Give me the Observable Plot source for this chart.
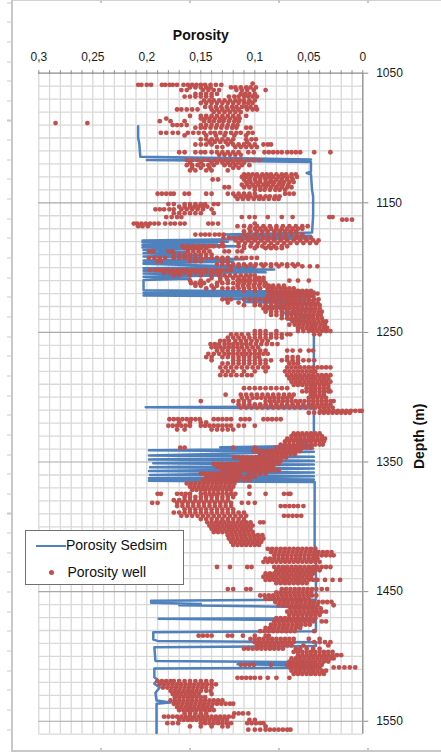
<!DOCTYPE html>
<html>
<head>
<meta charset="utf-8">
<script src="https://cdn.jsdelivr.net/npm/d3@7"></script>
<script src="https://cdn.jsdelivr.net/npm/@observablehq/plot@0.6"></script>
<style>
  html, body { margin: 0; padding: 0; background: #fff; }
  #wrap { position: relative; width: 441px; height: 752px; overflow: hidden; font-family: "Liberation Sans", Arial, sans-serif; }
  #wrap svg { display: block; position: absolute; left: 0; top: 0; }
  .frame { position: absolute; left: 11px; top: 0; width: 430px; height: 752px; box-sizing: border-box;
           border-left: 2px solid #c8c8c8; border-bottom: 2px solid #c8c8c8; border-top: 1px solid #d2d2d2; }
  .lticks { position: absolute; left: 7px; top: 0; width: 4px; height: 750px;
            background: repeating-linear-gradient(to bottom, transparent 0, transparent 18.6px, #c8c8c8 18.6px, #c8c8c8 19.65px);
            background-position: 0 -16.5px; }
  .tick { position: absolute; width: 1.5px; background: #c8c8c8; }
  #legend { position: absolute; left: 25px; top: 530px; width: 157px; height: 53px; background: #fff;
            border: 1px solid #707070; }
  #legend .txt { position: absolute; font-size: 14px; line-height: 14px; color: #111; white-space: nowrap; }
  #legend .ln { position: absolute; left: 10px; top: 13.5px; width: 30px; height: 2.6px; background: #4f81bd; }
  #legend .dt { position: absolute; left: 22.5px; top: 38.5px; width: 5px; height: 5px; border-radius: 50%; background: #c0504d; }
</style>
</head>
<body>
<div id="wrap">
  <div class="frame"></div>
  <div class="lticks"></div>
</div>
<script>
// ---------------- data ----------------
const porosityTicks = [0.3, 0.25, 0.2, 0.15, 0.1, 0.05, 0];
const depthTicks = [1050, 1150, 1250, 1350, 1450, 1550];
const seriesNames = ["Porosity Sedsim", "Porosity well"];

// Porosity Sedsim: [depth (m), porosity], in drawing order
const sedsimLog = [
  [1091,0.208],[1100,0.208],[1104,0.207],[1114.5,0.206],[1116.5,0.048],[1117,0.200],[1118.5,0.048],
  [1126,0.048],[1127,0.052],[1128,0.048],[1140,0.047],[1145,0.046],[1160,0.046],[1173,0.047],
  [1174.5,0.129],[1175.5,0.048],[1176.5,0.125],[1177.5,0.047],
  [1179,0.204],[1180,0.125],[1180.5,0.204],[1181.5,0.135],[1182.5,0.204],[1183.5,0.115],[1184.5,0.204],
  [1185.5,0.150],[1186.5,0.203],[1188,0.162],[1189,0.203],[1190.5,0.150],[1191.5,0.203],[1193.5,0.110],
  [1194.5,0.203],[1195.5,0.120],[1196.5,0.203],[1197,0.203],[1199.5,0.100],[1200.5,0.203],[1201.5,0.082],
  [1202.5,0.203],[1203.5,0.090],[1204.5,0.203],[1206,0.130],[1207,0.203],[1208.5,0.160],[1209.5,0.203],
  [1217.5,0.203],[1218.5,0.045],[1219.5,0.203],[1220.5,0.045],[1221.5,0.203],[1222.5,0.045],
  [1224,0.130],[1225,0.046],[1226.5,0.110],[1227.5,0.050],[1230,0.090],[1232,0.046],[1235,0.075],
  [1237,0.045],[1240,0.070],[1242,0.045],[1250,0.0453],[1300,0.0453],[1307,0.0453],[1307.8,0.201],
  [1308.6,0.0453],[1330,0.0453],[1334,0.050],[1336,0.060],[1337.5,0.046],[1338.6,0.132],[1339.6,0.046],
  [1341,0.198],[1342,0.0453],[1345,0.198],[1346,0.0453],[1348,0.198],[1349,0.0453],[1351,0.194],
  [1352,0.0453],[1354,0.197],[1355,0.0453],[1357,0.198],[1358,0.0453],[1360,0.197],[1361,0.0453],
  [1362.5,0.198],[1363.5,0.0453],[1364.5,0.198],[1365.5,0.0446],[1415,0.0446],[1416,0.0434],
  [1456,0.0434],[1457,0.196],[1458.5,0.196],[1459.5,0.150],[1460.5,0.170],[1462,0.0434],
  [1470.5,0.0434],[1471,0.189],[1472,0.0434],[1480.5,0.0434],[1481.3,0.194],[1487,0.194],[1488,0.190],
  [1489,0.0434],[1492,0.0434],[1493,0.193],[1503.5,0.192],[1504.5,0.0434],[1506,0.116],[1507,0.0434],
  [1508.5,0.0434],[1509.4,0.193],[1516,0.193],[1518,0.190],[1521,0.193],[1524,0.188],[1528,0.192],
  [1534,0.191],[1535.5,0.178],[1536.5,0.191],[1559,0.191]
];

// Porosity well: [depth (m), [porosity values read along that depth]]
const wellRows = [
  [1058,[0.102]],
  [1059,[0.208,0.205,0.200,0.196,0.186,0.183,0.179,0.176,0.172,0.166,0.162,0.158,0.154,0.150,0.146,0.141,0.136,0.131]],
  [1061,[0.160,0.155,0.150,0.145,0.141,0.122,0.118,0.113,0.108,0.104,0.099]],
  [1063,[0.090,0.168,0.163,0.148,0.143,0.138,0.133,0.117,0.112,0.107,0.101]],
  [1066,[0.155,0.150,0.145,0.140,0.135,0.113,0.109,0.105,0.100]],
  [1068,[0.165,0.160,0.155,0.150,0.145,0.140,0.124,0.119,0.115,0.110,0.106,0.102,0.098]],
  [1071,[0.147,0.142,0.138,0.133,0.128,0.123,0.118,0.114,0.110,0.105,0.100]],
  [1073,[0.150,0.145,0.140,0.135,0.130,0.125,0.120,0.115,0.110,0.106,0.102]],
  [1076,[0.146,0.141,0.136,0.131,0.126,0.121,0.117,0.112,0.108,0.104,0.099]],
  [1078,[0.172,0.168,0.163,0.158,0.153,0.140,0.135,0.130,0.125,0.120,0.115,0.107,0.102,0.098]],
  [1080,[0.138,0.133,0.128,0.123,0.118,0.113]],
  [1083,[0.160,0.150,0.145,0.140,0.135,0.130,0.125,0.120,0.115,0.108]],
  [1085,[0.182,0.150,0.146,0.142,0.137,0.132,0.128,0.123,0.118,0.114]],
  [1087,[0.188,0.178,0.165,0.147,0.142,0.138,0.133,0.129,0.124,0.119,0.115]],
  [1088.5,[0.2845,0.255]],
  [1090,[0.176,0.172,0.168,0.163,0.150,0.145,0.140,0.135,0.130,0.125,0.120,0.116]],
  [1092,[0.155,0.150,0.146,0.141,0.136,0.131,0.126,0.121,0.117,0.108,0.104]],
  [1096,[0.187,0.182,0.176,0.171,0.162,0.157,0.152,0.147,0.141,0.137,0.132,0.127,0.122,0.117,0.113,0.106,0.102]],
  [1098,[0.165,0.145,0.136,0.128,0.119,0.108]],
  [1101,[0.150,0.145,0.140,0.135,0.130,0.125,0.120,0.108,0.103,0.099]],
  [1103,[0.142,0.137,0.132,0.127,0.122,0.107]],
  [1105,[0.155,0.150,0.145,0.140,0.125,0.120,0.115,0.110,0.105,0.100,0.092,0.088,0.085]],
  [1107,[0.135,0.130,0.118,0.113,0.108,0.103,0.098]],
  [1111,[0.170,0.165,0.155,0.150,0.146,0.140,0.135,0.130,0.125,0.120,0.115,0.106,0.101,0.091,0.087,0.083,0.079,0.075,0.070,0.066,0.062,0.058,0.045,0.030]],
  [1113,[0.133,0.128,0.123,0.118,0.113]],
  [1117,[0.163,0.158,0.153,0.148,0.143,0.137,0.132,0.127,0.122,0.117,0.113,0.106,0.101,0.096]],
  [1119,[0.160,0.150,0.140,0.135,0.130,0.125,0.120,0.115,0.110]],
  [1121,[0.163,0.158,0.153,0.148,0.143,0.138,0.128,0.123,0.118,0.112,0.105]],
  [1123,[0.158,0.150,0.142,0.120,0.115]],
  [1125,[0.160,0.155,0.145,0.140,0.125]],
  [1128,[0.110,0.106,0.102,0.098,0.093,0.089,0.085,0.080,0.075,0.071,0.066,0.062]],
  [1130,[0.112,0.108,0.104,0.099,0.095,0.091,0.087,0.083,0.078,0.074,0.070,0.066,0.061]],
  [1132,[0.139,0.134,0.110,0.105,0.100,0.095,0.090,0.085,0.080,0.075,0.070,0.065]],
  [1134,[0.108,0.104,0.099,0.095,0.090,0.086,0.082,0.077,0.073,0.068,0.064]],
  [1136,[0.112,0.107,0.102,0.097,0.092,0.088,0.083,0.078,0.074,0.069]],
  [1138,[0.128,0.124,0.110,0.105,0.100,0.095,0.090,0.085,0.080,0.075,0.070,0.066]],
  [1140,[0.100,0.095,0.091,0.086,0.081,0.077,0.072]],
  [1143,[0.190,0.186,0.182,0.178,0.175,0.165,0.161,0.145,0.140,0.125,0.120,0.115,0.110,0.105,0.100,0.072,0.068,0.064]],
  [1145,[0.118,0.113,0.108,0.104,0.099,0.095,0.090,0.086,0.081,0.077]],
  [1147,[0.116,0.111,0.106,0.101,0.096,0.092,0.087,0.082,0.078]],
  [1151,[0.180,0.175,0.165,0.160,0.155,0.150,0.146,0.138,0.134]],
  [1153,[0.170,0.165,0.160,0.156,0.152,0.148,0.144]],
  [1155,[0.192,0.188,0.184,0.179,0.175,0.168,0.163,0.158,0.153,0.148,0.140]],
  [1158,[0.175,0.170,0.165,0.160,0.155,0.150,0.138]],
  [1161,[0.182,0.177,0.172,0.168,0.112,0.105,0.100,0.088,0.075,0.065,0.031,0.028]],
  [1163,[0.019,0.015,0.010]],
  [1166,[0.212,0.209,0.205,0.201,0.197,0.193,0.189,0.183,0.178,0.174,0.169,0.165,0.143,0.139,0.134,0.100]],
  [1168,[0.208,0.204,0.199,0.116,0.110,0.104,0.098,0.092,0.086,0.080,0.074,0.068,0.062,0.056,0.051]],
  [1170,[0.105,0.100,0.095,0.090,0.085,0.080,0.075,0.070,0.065,0.060,0.056]],
  [1172,[0.110,0.104,0.098,0.093,0.088,0.082,0.077,0.072,0.067,0.062]],
  [1174.5,[0.155,0.150,0.146,0.142,0.137,0.133,0.129,0.110,0.106,0.100,0.094,0.088,0.082,0.077,0.071,0.066,0.061,0.056]],
  [1177,[0.129,0.124,0.119,0.114,0.108,0.103,0.098,0.092,0.087,0.082,0.076,0.071,0.062,0.058,0.053,0.048]],
  [1179,[0.118,0.112,0.106,0.100,0.094,0.088,0.082,0.076,0.070,0.064,0.058,0.052,0.046,0.041]],
  [1181,[0.130,0.115,0.109,0.103,0.097,0.091,0.085,0.079,0.073,0.067,0.061,0.055,0.049,0.043]],
  [1183.5,[0.167,0.162,0.157,0.152,0.147,0.142,0.138,0.133,0.129,0.115,0.110,0.104,0.098,0.093,0.087,0.082,0.075,0.070]],
  [1185,[0.165,0.160,0.155,0.150,0.145,0.110,0.100,0.090,0.085,0.080,0.075]],
  [1187.5,[0.198,0.194,0.180,0.176,0.162,0.157,0.152,0.147,0.142,0.128,0.124,0.116,0.112]],
  [1190,[0.175,0.170,0.165,0.160,0.155,0.150,0.145,0.140]],
  [1192.5,[0.198,0.193,0.188,0.183,0.175,0.170,0.165,0.160,0.155,0.150,0.145,0.140,0.135,0.130,0.125,0.117,0.112,0.108,0.103,0.098]],
  [1195,[0.190,0.187,0.160,0.155,0.150,0.130,0.125]],
  [1197.5,[0.135,0.130,0.125,0.120,0.115,0.110,0.104,0.099,0.094,0.090,0.085,0.080,0.075,0.070,0.065,0.060]],
  [1199,[0.122,0.115,0.108,0.100,0.092,0.085,0.078,0.070,0.063,0.056,0.049,0.042]],
  [1202,[0.197,0.192,0.188,0.184,0.180,0.176,0.171,0.167,0.163,0.158,0.154,0.150,0.145,0.140,0.135,0.131,0.126,0.122]],
  [1204,[0.184,0.179,0.174,0.170,0.165,0.160,0.155,0.150,0.145,0.140,0.136,0.132]],
  [1206,[0.175,0.170,0.160,0.150,0.140,0.133,0.128,0.123,0.118,0.113,0.108,0.104,0.100]],
  [1208,[0.140,0.132,0.126,0.120,0.115,0.110,0.105,0.100,0.096,0.092]],
  [1210,[0.160,0.150,0.143,0.132,0.125,0.116,0.112,0.108,0.104,0.100,0.096,0.092,0.068,0.060,0.050]],
  [1212,[0.159,0.155,0.151,0.147,0.135,0.130,0.125,0.120,0.115,0.110,0.105,0.100,0.095,0.090]],
  [1214,[0.155,0.150,0.140,0.135,0.116,0.111,0.106,0.101,0.096,0.091,0.087,0.083,0.078,0.073]],
  [1216,[0.145,0.138,0.130,0.125,0.120,0.115,0.110,0.105,0.100,0.095,0.088,0.084,0.080,0.076,0.072,0.068,0.064]],
  [1218,[0.110,0.100,0.088,0.084,0.080,0.076,0.072,0.068,0.064,0.060,0.056,0.052,0.048]],
  [1220,[0.085,0.081,0.077,0.073,0.069,0.065,0.061,0.057,0.053,0.049,0.045,0.042]],
  [1222,[0.088,0.083,0.078,0.074,0.070,0.066,0.062,0.058,0.054,0.050,0.046]],
  [1224.5,[0.130,0.126,0.122,0.110,0.105,0.100,0.095,0.090,0.086,0.082,0.078,0.074,0.070,0.066,0.062,0.058,0.054,0.050,0.045,0.041]],
  [1227,[0.125,0.115,0.100,0.090,0.085,0.080,0.075,0.070,0.066,0.062,0.058,0.054,0.050,0.046,0.042]],
  [1229,[0.110,0.100,0.095,0.090,0.085,0.080,0.076,0.072,0.068,0.064,0.060,0.056,0.052,0.048,0.044,0.040]],
  [1231.5,[0.092,0.088,0.084,0.080,0.076,0.072,0.068,0.064,0.060,0.056,0.052,0.048,0.044,0.040]],
  [1234,[0.090,0.085,0.080,0.075,0.070,0.065,0.061,0.057,0.053,0.049,0.045,0.041,0.038]],
  [1236.5,[0.085,0.080,0.075,0.070,0.066,0.062,0.058,0.054,0.050,0.046,0.042,0.039]],
  [1239,[0.075,0.070,0.066,0.062,0.058,0.054,0.050,0.046,0.042,0.038]],
  [1241.5,[0.065,0.061,0.057,0.053,0.049,0.045,0.041,0.037,0.034]],
  [1244,[0.068,0.063,0.059,0.055,0.051,0.047,0.043,0.039,0.035]],
  [1246.5,[0.060,0.056,0.052,0.048,0.044,0.040,0.036,0.033]],
  [1249,[0.100,0.095,0.090,0.080,0.060,0.055,0.050,0.046,0.042,0.038,0.034,0.030]],
  [1251.5,[0.122,0.117,0.112,0.106,0.100,0.095,0.090,0.085,0.080,0.075,0.070,0.067,0.045,0.040]],
  [1254,[0.125,0.120,0.115,0.110,0.105,0.100,0.095,0.090,0.085,0.080,0.075]],
  [1256.5,[0.132,0.128,0.124,0.118,0.113,0.108,0.103,0.098,0.093,0.088]],
  [1259,[0.141,0.137,0.133,0.128,0.124,0.120,0.116,0.112,0.108,0.104,0.099,0.094,0.089,0.084,0.079]],
  [1261.5,[0.140,0.136,0.132,0.128,0.124,0.120,0.116,0.112,0.107,0.102,0.097]],
  [1264,[0.135,0.130,0.125,0.120,0.115,0.110,0.105,0.100,0.095,0.090,0.070,0.065,0.058,0.050,0.046]],
  [1266.5,[0.143,0.138,0.133,0.128,0.124,0.120,0.116,0.112,0.108,0.104,0.100,0.096,0.092,0.088]],
  [1269,[0.145,0.140,0.130,0.125,0.120,0.115,0.110,0.105,0.100,0.096,0.070,0.065,0.060]],
  [1271.5,[0.140,0.120,0.115,0.110,0.105,0.100,0.095,0.090,0.085,0.075,0.070,0.065,0.060,0.055,0.050,0.045]],
  [1274,[0.130,0.125,0.120,0.115,0.110,0.105,0.100,0.095,0.090,0.068,0.064,0.060]],
  [1277,[0.132,0.127,0.122,0.117,0.112,0.107,0.102,0.097,0.092,0.088,0.070,0.066,0.062,0.058,0.054,0.050,0.046,0.042,0.038,0.034,0.030]],
  [1280,[0.130,0.125,0.120,0.110,0.100,0.090,0.072,0.068,0.064,0.060,0.056,0.052,0.048,0.044]],
  [1283,[0.132,0.127,0.122,0.117,0.112,0.107,0.103,0.070,0.066,0.062,0.058,0.054,0.050,0.046,0.042,0.038,0.034,0.030]],
  [1285.5,[0.068,0.064,0.060,0.056,0.052,0.048,0.044,0.040,0.036,0.032]],
  [1288,[0.066,0.062,0.058,0.054,0.050,0.046,0.042,0.038,0.034,0.030]],
  [1290.5,[0.064,0.060,0.056,0.052,0.048,0.044,0.040,0.036,0.032]],
  [1293,[0.110,0.105,0.100,0.095,0.090,0.085,0.080,0.075,0.070,0.052,0.048,0.044,0.040,0.036,0.032]],
  [1295.5,[0.056,0.052,0.048,0.044,0.040,0.036,0.032,0.030]],
  [1298,[0.127,0.113,0.108,0.103,0.098,0.093,0.088,0.083,0.078,0.073,0.068,0.064,0.048,0.044,0.040,0.036]],
  [1300.5,[0.112,0.107,0.102,0.098,0.094,0.090,0.086,0.082,0.078,0.074,0.070,0.066,0.050,0.046,0.042,0.038,0.034]],
  [1303,[0.150,0.120,0.115,0.110,0.105,0.090,0.086,0.082,0.078,0.074,0.070,0.066,0.062,0.058,0.054,0.050,0.046,0.042,0.038,0.034,0.030,0.027]],
  [1305.5,[0.115,0.110,0.105,0.100,0.095,0.090,0.085,0.080,0.075,0.070,0.065,0.060,0.055,0.050,0.046,0.042,0.038,0.034,0.030]],
  [1308,[0.113,0.108,0.103,0.098,0.093,0.088,0.083,0.078,0.073,0.068,0.063,0.058,0.053,0.048,0.044,0.040,0.036,0.032,0.028]],
  [1310.5,[0.039,0.035,0.031,0.027,0.023,0.019,0.015,0.011,0.007,0.003,0.001]],
  [1312,[0.050,0.045,0.040,0.036,0.032,0.028,0.024,0.020,0.016,0.012]],
  [1317,[0.179,0.175,0.171,0.167,0.163,0.159,0.155,0.151,0.138,0.134,0.130,0.126,0.122,0.113,0.109,0.105,0.092,0.088,0.084,0.080,0.076]],
  [1319.5,[0.170,0.160,0.150,0.145]],
  [1322,[0.180,0.176,0.172,0.168,0.164,0.160,0.150,0.146,0.142,0.138,0.134,0.130,0.126,0.122,0.115,0.110,0.100]],
  [1325,[0.172,0.165,0.140,0.135,0.130,0.125,0.120]],
  [1328,[0.064,0.060,0.056,0.052,0.048,0.044,0.040]],
  [1330,[0.066,0.062,0.058,0.054,0.050,0.046,0.042,0.038]],
  [1332,[0.070,0.066,0.062,0.058,0.054,0.050,0.046,0.042,0.038,0.035]],
  [1334,[0.072,0.068,0.064,0.060,0.056,0.052,0.048,0.044,0.040,0.036]],
  [1336.5,[0.076,0.072,0.068,0.064,0.060,0.056,0.052,0.048,0.044,0.040,0.037]],
  [1339,[0.169,0.165,0.120,0.100,0.080,0.076,0.072,0.068,0.064,0.060,0.056,0.052,0.048]],
  [1341.5,[0.101,0.097,0.093,0.089,0.085,0.081,0.077,0.073,0.069,0.065,0.061,0.058]],
  [1344,[0.095,0.091,0.087,0.083,0.079,0.075,0.071,0.067,0.063]],
  [1346.5,[0.119,0.115,0.111,0.107,0.103,0.099,0.095,0.091,0.087,0.083,0.079,0.075,0.071]],
  [1349,[0.112,0.108,0.104,0.100,0.096,0.092,0.088,0.084,0.080,0.076]],
  [1351.5,[0.138,0.134,0.130,0.126,0.122,0.118,0.114,0.110,0.106,0.102,0.098,0.094,0.090,0.086,0.082,0.078]],
  [1354,[0.135,0.131,0.127,0.123,0.119,0.115,0.111,0.107,0.103,0.099,0.095,0.091,0.087,0.083]],
  [1356.5,[0.130,0.126,0.122,0.118,0.114,0.110,0.106,0.102,0.098,0.094,0.090,0.086,0.082,0.078]],
  [1359,[0.150,0.146,0.142,0.138,0.134,0.130,0.126,0.122,0.118,0.114,0.105,0.100,0.095,0.090]],
  [1361.5,[0.145,0.141,0.137,0.133,0.129,0.125,0.121,0.117,0.113,0.108,0.104,0.100]],
  [1364,[0.148,0.144,0.140,0.136,0.132,0.128,0.124,0.120,0.116,0.110,0.105]],
  [1366.5,[0.163,0.159,0.155,0.151,0.147,0.143,0.139,0.135,0.131,0.127,0.123,0.119]],
  [1369,[0.160,0.156,0.152,0.148,0.144,0.140,0.136,0.132,0.128,0.124,0.120,0.105]],
  [1371.5,[0.158,0.154,0.150,0.146,0.142,0.138,0.134,0.130,0.126,0.122]],
  [1374.5,[0.190,0.187,0.172,0.168,0.164,0.160,0.150,0.146,0.142,0.138,0.134,0.130,0.126,0.122,0.118,0.105,0.090,0.073,0.069,0.067]],
  [1377,[0.165,0.160,0.155,0.150,0.145,0.140,0.135,0.130,0.125,0.120]],
  [1379.5,[0.175,0.170,0.165,0.160,0.155,0.150,0.145,0.140,0.135,0.130,0.125]],
  [1381.5,[0.195,0.190,0.172,0.167,0.162,0.157,0.152,0.147,0.142,0.137,0.132,0.127,0.122,0.112,0.106,0.100]],
  [1384,[0.172,0.167,0.162,0.157,0.152,0.147,0.142,0.137,0.132,0.127,0.122,0.076,0.072,0.068,0.064,0.060,0.055]],
  [1386.5,[0.165,0.160,0.155,0.150,0.145,0.140,0.135,0.130,0.125,0.120]],
  [1389,[0.175,0.170,0.165,0.160,0.155,0.150,0.145,0.140,0.135,0.130,0.125,0.120,0.115,0.110]],
  [1391.5,[0.168,0.163,0.158,0.153,0.148,0.143,0.138,0.133,0.128,0.123,0.118,0.113,0.108,0.073,0.069,0.065,0.061,0.057]],
  [1394,[0.150,0.145,0.140,0.135,0.130,0.125,0.120,0.115,0.110]],
  [1396.5,[0.144,0.140,0.136,0.132,0.128,0.124,0.120,0.116,0.112,0.108,0.104,0.095,0.092]],
  [1399,[0.142,0.138,0.134,0.130,0.126,0.122,0.118,0.114,0.110,0.106,0.102]],
  [1401.5,[0.140,0.136,0.132,0.128,0.124,0.120,0.116,0.112,0.108,0.104]],
  [1404,[0.138,0.134,0.130,0.126,0.122,0.118,0.114,0.110,0.106,0.102]],
  [1406.5,[0.125,0.121,0.117,0.113,0.109,0.105,0.101,0.097,0.093]],
  [1409,[0.124,0.120,0.116,0.112,0.108,0.104,0.100,0.096,0.092]],
  [1411.5,[0.122,0.118,0.114,0.110,0.106,0.102,0.098,0.094]],
  [1414,[0.120,0.116,0.112,0.108,0.104,0.100,0.096]],
  [1417,[0.088,0.084,0.080,0.076,0.072,0.068,0.064,0.060,0.056,0.052,0.048,0.044]],
  [1419.5,[0.085,0.081,0.077,0.073,0.069,0.065,0.061,0.057,0.053,0.049,0.045,0.041,0.037,0.033,0.029]],
  [1422,[0.082,0.078,0.074,0.070,0.066,0.062,0.058,0.054,0.050,0.046,0.042,0.038,0.034,0.030,0.027]],
  [1424.5,[0.090,0.086,0.082,0.078,0.074,0.070,0.066,0.062,0.058,0.054,0.050,0.046,0.042]],
  [1427,[0.092,0.088,0.084,0.080,0.076,0.072,0.068,0.064,0.060,0.056,0.052,0.048,0.044,0.040]],
  [1431,[0.135,0.123,0.107,0.103,0.082,0.078,0.074,0.070,0.066,0.062,0.058,0.054,0.050,0.046,0.042,0.038,0.034,0.030]],
  [1433.5,[0.080,0.076,0.072,0.068,0.064,0.060,0.056,0.052,0.048,0.044,0.040]],
  [1436,[0.090,0.086,0.082,0.078,0.074,0.070,0.066,0.062,0.058,0.054,0.050,0.046]],
  [1438.5,[0.092,0.088,0.084,0.080,0.076,0.072,0.068,0.064,0.060,0.056,0.052,0.048]],
  [1441,[0.090,0.086,0.082,0.078,0.074,0.070,0.066,0.062,0.058,0.054,0.050,0.046,0.042,0.035,0.028,0.021]],
  [1443.5,[0.080,0.076,0.072,0.068,0.064,0.060,0.056,0.052]],
  [1448,[0.125,0.120,0.108,0.104,0.075,0.071,0.067,0.063,0.059,0.055,0.051,0.047,0.043,0.038,0.033]],
  [1450.5,[0.080,0.076,0.072,0.068,0.064,0.060,0.056,0.052,0.048]],
  [1453,[0.095,0.091,0.087,0.083,0.079,0.075,0.071,0.067,0.063,0.059,0.055,0.051,0.047,0.043]],
  [1455.5,[0.090,0.086,0.082,0.078,0.074,0.070,0.066,0.062,0.058,0.054,0.050]],
  [1458,[0.081,0.077,0.073,0.069,0.065,0.061,0.057,0.053,0.049,0.045,0.041,0.037,0.033,0.029]],
  [1460.5,[0.078,0.074,0.070,0.066,0.062,0.058,0.054,0.050,0.046,0.042,0.027]],
  [1463,[0.067,0.063,0.059,0.055,0.051,0.047,0.043,0.039]],
  [1465.5,[0.070,0.066,0.062,0.058,0.054,0.050,0.046,0.042,0.038,0.034]],
  [1468,[0.068,0.064,0.060,0.056,0.052,0.048,0.044,0.040]],
  [1470.5,[0.080,0.076,0.072,0.068,0.064,0.060,0.056,0.052,0.048,0.044]],
  [1473,[0.082,0.078,0.074,0.070,0.066,0.062,0.058,0.054,0.050,0.046,0.038,0.034]],
  [1475.5,[0.085,0.081,0.077,0.073,0.069,0.065,0.061,0.057,0.053,0.049]],
  [1478,[0.090,0.086,0.082,0.078,0.074,0.070,0.066,0.062,0.058]],
  [1480.5,[0.095,0.091,0.087,0.083,0.079,0.075,0.071,0.067,0.063,0.045]],
  [1484,[0.152,0.148,0.144,0.140,0.125,0.121,0.111,0.100,0.090,0.087]],
  [1486.5,[0.104,0.100,0.096,0.092,0.088,0.084,0.080,0.076,0.072,0.068,0.064,0.050,0.040]],
  [1489,[0.100,0.096,0.092,0.088,0.084,0.080,0.076,0.072,0.068,0.064,0.045,0.040,0.035,0.030]],
  [1491.5,[0.098,0.094,0.090,0.086,0.082,0.078,0.074,0.070,0.066,0.055,0.032]],
  [1494,[0.110,0.106,0.102,0.098,0.094,0.090,0.086,0.082,0.078,0.074,0.062,0.058,0.052,0.046,0.040]],
  [1496.5,[0.064,0.060,0.056,0.052,0.048,0.044,0.040,0.036,0.032,0.028]],
  [1499,[0.060,0.056,0.052,0.048,0.044,0.040,0.036,0.032,0.028,0.024,0.020]],
  [1501.5,[0.066,0.062,0.058,0.054,0.050,0.046,0.042,0.038,0.034,0.030,0.027]],
  [1504,[0.068,0.064,0.060,0.056,0.052,0.048,0.044,0.040,0.036,0.032]],
  [1506.5,[0.113,0.109,0.105,0.101,0.085,0.070,0.066,0.062,0.058,0.054,0.050,0.046,0.042,0.038]],
  [1508.5,[0.068,0.064,0.060,0.056,0.052,0.048,0.044,0.040,0.027,0.022,0.017,0.012,0.007]],
  [1511,[0.066,0.062,0.058,0.054,0.050,0.046,0.042,0.038,0.034]],
  [1513.5,[0.064,0.060,0.056,0.052,0.048,0.044,0.040,0.036]],
  [1516.5,[0.116,0.112,0.108,0.104,0.100,0.095,0.088,0.080,0.068]],
  [1519,[0.190,0.186,0.182,0.178,0.175,0.170,0.165,0.160,0.155,0.150,0.145,0.140]],
  [1521.5,[0.188,0.184,0.180,0.176,0.172,0.168,0.164,0.160,0.156,0.152,0.148,0.144,0.140,0.136]],
  [1524,[0.185,0.181,0.177,0.173,0.169,0.165,0.161,0.157,0.153,0.149,0.145,0.140]],
  [1526.5,[0.178,0.174,0.170,0.166,0.162,0.158,0.154,0.150,0.145,0.141]],
  [1529,[0.176,0.172,0.168,0.164,0.160,0.156,0.152,0.140]],
  [1531.5,[0.174,0.170,0.166,0.162,0.158,0.154,0.150,0.146]],
  [1534,[0.178,0.174,0.170,0.166,0.162,0.158,0.154,0.150,0.146,0.142,0.138,0.134,0.130]],
  [1536.5,[0.175,0.171,0.167,0.163,0.159,0.155,0.151,0.147,0.143,0.139,0.135,0.131,0.127,0.123,0.120]],
  [1539,[0.172,0.168,0.164,0.160,0.156,0.152,0.148,0.144,0.140]],
  [1541.5,[0.170,0.166,0.162,0.158,0.154,0.150,0.146,0.142,0.138]],
  [1544,[0.165,0.160,0.155,0.150,0.145,0.119,0.115,0.111,0.106]],
  [1546.5,[0.184,0.180,0.176,0.172,0.168,0.164,0.160,0.156,0.152,0.148,0.144,0.140,0.136,0.132,0.128,0.124,0.120]],
  [1549,[0.170,0.166,0.162,0.158,0.154,0.150,0.146,0.142,0.138,0.134,0.130,0.126,0.105,0.100]],
  [1551.5,[0.181,0.176,0.171,0.150,0.146,0.142,0.138,0.134,0.130,0.126,0.122,0.107,0.103,0.099,0.095,0.092]],
  [1554,[0.160,0.150,0.140,0.130,0.125,0.090]],
  [1556.5,[0.106,0.100,0.095,0.090,0.086,0.082,0.078,0.074,0.070,0.067]]
];

// ---------------- build tables ----------------
const sedsim = sedsimLog.map(([depth, porosity]) => ({depth, porosity}));
const well = wellRows.flatMap(([depth, vals]) => vals.map(porosity => ({depth, porosity})));
const xMinor = d3.range(0, 31).map(i => i / 100);
const yMinor = d3.range(1060, 1561, 10).filter(d => !depthTicks.includes(d));

const chart = Plot.plot({
  width: 441,
  height: 752,
  marginLeft: 38.3,
  marginRight: 78.7,
  marginTop: 72.7,
  marginBottom: 18.3,
  style: {fontFamily: "'Liberation Sans', Arial, sans-serif", fontSize: "12px", color: "#1a1a1a", background: "transparent", overflow: "visible"},
  x: {domain: [0.3, 0], label: null},
  y: {domain: [1050, 1560], reverse: true, label: null},
  marks: [
    Plot.ruleX(xMinor, {stroke: "#d9d9d9", strokeWidth: 1.3}),
    Plot.ruleY(yMinor, {stroke: "#d9d9d9", strokeWidth: 1.3}),
    Plot.ruleY(depthTicks.slice(1), {stroke: "#a9a9a9", strokeWidth: 1.2}),
    Plot.ruleY([1050], {stroke: "#8c8c8c", strokeWidth: 1.2}),
    Plot.ruleX([0], {stroke: "#8c8c8c", strokeWidth: 1.2}),
    Plot.axisX({anchor: "top", ticks: xMinor, tickSize: 3.5, tickFormat: () => "", label: null, stroke: "#8c8c8c"}),
    Plot.axisX({anchor: "top", ticks: porosityTicks, tickSize: 0, tickPadding: 11.7, label: null,
      tickFormat: d => String(d).replace(".", ",")}),
    Plot.axisY({anchor: "right", ticks: depthTicks, tickSize: 5, tickPadding: 8.4, label: null,
      tickFormat: d => String(d), stroke: "#8c8c8c"}),
    Plot.text(["Porosity"], {text: d => d, frameAnchor: "top", dy: -33.4, lineAnchor: "bottom",
      fontSize: 14, fontWeight: "bold", fill: "#111"}),
    Plot.text(["Depth (m)"], {text: d => d, frameAnchor: "right", dx: 57, rotate: -90,
      fontSize: 14, fontWeight: "bold", fill: "#111"}),
    Plot.line(sedsim, {x: "porosity", y: "depth", stroke: "#4f81bd", strokeWidth: 2.5, strokeLinejoin: "round"}),
    Plot.dot(well, {x: "porosity", y: "depth", r: 2.4, fill: "#c0504d", stroke: "none"})
  ]
});

const wrap = document.getElementById("wrap");
wrap.appendChild(chart);

// small ticks on the cropped outer frame (top and bottom)
[100, 189, 278, 367].forEach(x => {
  const t = document.createElement("div");
  t.className = "tick"; t.style.left = x + "px"; t.style.top = "0px"; t.style.height = "3px";
  wrap.appendChild(t);
  const b = document.createElement("div");
  b.className = "tick"; b.style.left = x + "px"; b.style.top = "748px"; b.style.height = "4px";
  wrap.appendChild(b);
});

// legend
const legend = document.createElement("div");
legend.id = "legend";
legend.innerHTML =
  `<div class="ln"></div><div class="txt" style="left:40px;top:7px">${seriesNames[0]}</div>` +
  `<div class="dt"></div><div class="txt" style="left:41.5px;top:34px">${seriesNames[1]}</div>`;
wrap.appendChild(legend);
</script>
</body>
</html>
